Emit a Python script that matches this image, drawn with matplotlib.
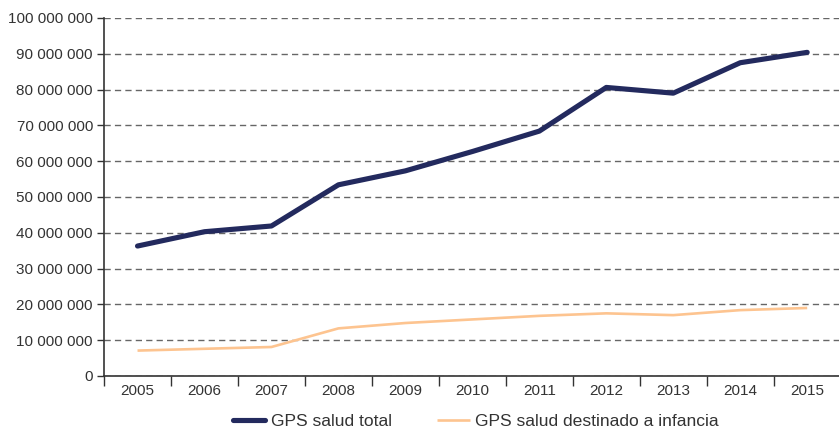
import matplotlib
matplotlib.use("Agg")
import matplotlib.pyplot as plt
from matplotlib.ticker import FuncFormatter, FixedLocator, MultipleLocator
import numpy as np

plt.rcParams['font.family'] = ['Liberation Sans', 'DejaVu Sans']

years = ["2005", "2006", "2007", "2008", "2009", "2010", "2011", "2012", "2013", "2014", "2015"]
gps_total = [36.3e6, 40.3e6, 41.9e6, 53.4e6, 57.3e6, 62.7e6, 68.4e6, 80.6e6, 79.0e6, 87.5e6, 90.4e6]
gps_infancia = [7.1e6, 7.6e6, 8.1e6, 13.3e6, 14.8e6, 15.8e6, 16.8e6, 17.5e6, 17.0e6, 18.4e6, 19.0e6]
series_labels = ["GPS salud total", "GPS salud destinado a infancia"]

fig = plt.figure(figsize=(8.39, 4.28), dpi=100)
ax = fig.add_axes([0.124, 0.1215, 0.878, 0.8365])

x = np.arange(len(years))
ax.plot(x, gps_total, color="#232A5E", lw=3.7, solid_capstyle="round", solid_joinstyle="round",
        label=series_labels[0], zorder=3)
ax.plot(x, gps_infancia, color="#FDC490", lw=1.9, solid_capstyle="butt",
        label=series_labels[1], zorder=3)

ax.set_xlim(-0.5, len(years) - 0.5)
ax.set_ylim(0, 100e6)
ax.yaxis.set_major_locator(MultipleLocator(10e6))
ax.yaxis.set_major_formatter(FuncFormatter(lambda v, p: f"{int(round(v)):,}".replace(",", " ")))

ax.set_xticks(x)
ax.set_xticklabels(years)
ax.xaxis.set_minor_locator(FixedLocator(np.arange(-0.5, len(years), 1.0)))
ax.tick_params(axis='x', which='major', length=0, pad=6, labelsize=11, labelcolor="#333333")
ax.tick_params(axis='x', which='minor', length=7, width=1, color="#333333", direction='out')
ax.tick_params(axis='y', which='major', length=5, width=1, color="#333333", direction='out',
               pad=3, labelsize=11, labelcolor="#333333")

ax.grid(axis='y', linestyle=(0, (4.5, 3)), color="#666666", lw=1)
ax.set_axisbelow(True)
for s in ["top", "right"]:
    ax.spines[s].set_visible(False)
for s in ["left", "bottom"]:
    ax.spines[s].set_color("#333333")
    ax.spines[s].set_linewidth(1.2)

fig.legend(loc="lower center", bbox_to_anchor=(0.567, -0.04), ncol=2, frameon=False,
           fontsize=12.6, handlelength=1.85, columnspacing=2.6, handletextpad=0.3,
           labelcolor="#333333")

fig.savefig("out.png", dpi=100)
